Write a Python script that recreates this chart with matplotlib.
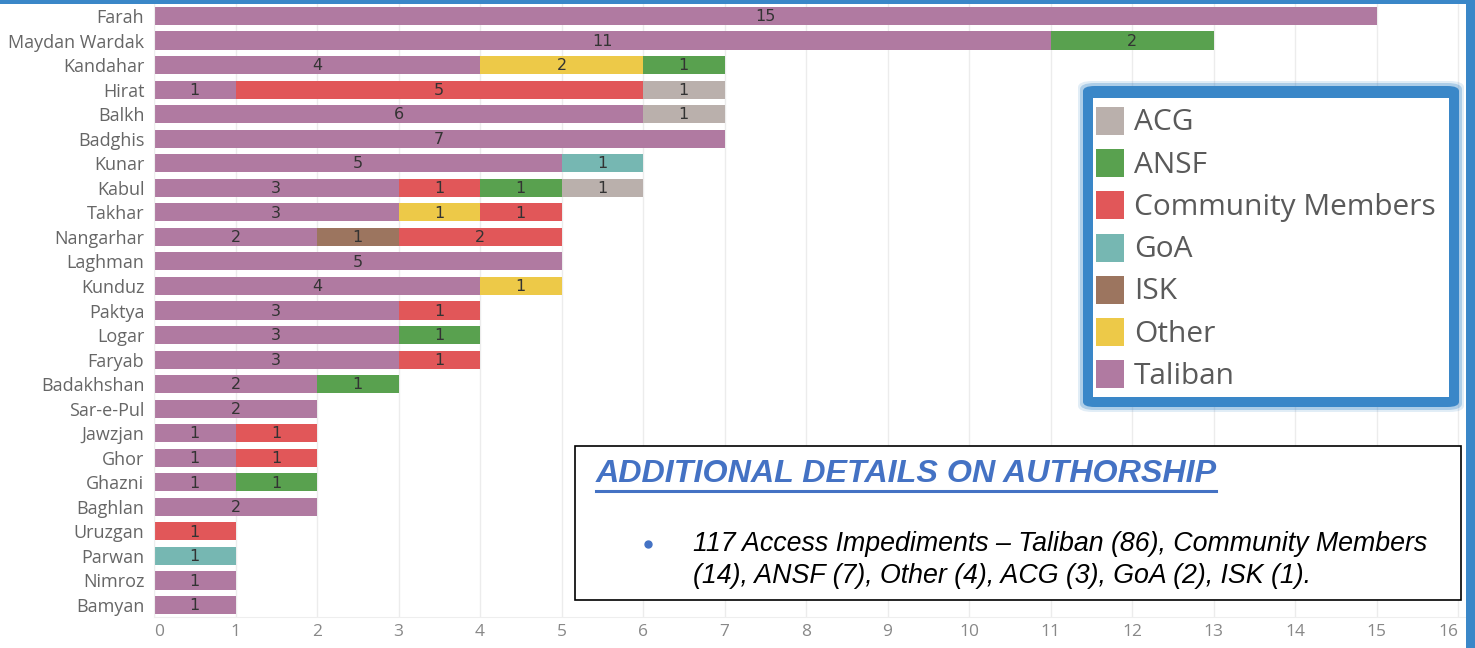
import matplotlib
matplotlib.use("Agg")
import matplotlib.pyplot as plt
from matplotlib import font_manager
from matplotlib.patches import Rectangle, FancyBboxPatch
from matplotlib.lines import Line2D
import numpy as np

provinces = ["Farah", "Maydan Wardak", "Kandahar", "Hirat", "Balkh", "Badghis",
             "Kunar", "Kabul", "Takhar", "Nangarhar", "Laghman", "Kunduz",
             "Paktya", "Logar", "Faryab", "Badakhshan", "Sar-e-Pul", "Jawzjan",
             "Ghor", "Ghazni", "Baghlan", "Uruzgan", "Parwan", "Nimroz", "Bamyan"]

# stacking order as drawn, left to right
taliban   = [15, 11, 4, 1, 6, 7, 5, 3, 3, 2, 5, 4, 3, 3, 3, 2, 2, 1, 1, 1, 2, 0, 0, 1, 1]
isk       = [0, 0, 0, 0, 0, 0, 0, 0, 0, 1, 0, 0, 0, 0, 0, 0, 0, 0, 0, 0, 0, 0, 0, 0, 0]
other     = [0, 0, 2, 0, 0, 0, 0, 0, 1, 0, 0, 1, 0, 0, 0, 0, 0, 0, 0, 0, 0, 0, 0, 0, 0]
community = [0, 0, 0, 5, 0, 0, 0, 1, 1, 2, 0, 0, 1, 0, 1, 0, 0, 1, 1, 0, 0, 1, 0, 0, 0]
ansf      = [0, 2, 1, 0, 0, 0, 0, 1, 0, 0, 0, 0, 0, 1, 0, 1, 0, 0, 0, 1, 0, 0, 0, 0, 0]
goa       = [0, 0, 0, 0, 0, 0, 1, 0, 0, 0, 0, 0, 0, 0, 0, 0, 0, 0, 0, 0, 0, 0, 1, 0, 0]
acg       = [0, 0, 0, 1, 1, 0, 0, 1, 0, 0, 0, 0, 0, 0, 0, 0, 0, 0, 0, 0, 0, 0, 0, 0, 0]

stack_names = ["Taliban", "ISK", "Other", "Community Members", "ANSF", "GoA", "ACG"]
stack_values = [taliban, isk, other, community, ansf, goa, acg]
legend_names = ["ACG", "ANSF", "Community Members", "GoA", "ISK", "Other", "Taliban"]

colors = {"Taliban": "#b07aa1", "ISK": "#9c755f", "Other": "#edc948",
          "Community Members": "#e15759", "ANSF": "#59a14f", "GoA": "#76b7b2",
          "ACG": "#bab0ac"}

box_title = "ADDITIONAL DETAILS ON AUTHORSHIP"
box_lines = ["117 Access Impediments \u2013 Taliban (86), Community Members",
             "(14), ANSF (7), Other (4), ACG (3), GoA (2), ISK (1)."]

available = {f.name for f in font_manager.fontManager.ttflist}
ui_font = "Open Sans" if "Open Sans" in available else "DejaVu Sans"
narrow = "Liberation Sans Narrow" if "Liberation Sans Narrow" in available else "Liberation Sans"

W, H = 1475, 648
fig = plt.figure(figsize=(W / 100, H / 100), dpi=100)
fig.patch.set_facecolor("white")

# axes placement in pixels
x0_px, unit_px = 154, 81.5
top_px, bot_px = 3.7, 617.3
xmax = 16.15
ax = fig.add_axes([x0_px / W, (H - bot_px) / H, xmax * unit_px / W, (bot_px - top_px) / H])

y = np.arange(len(provinces))
left = np.zeros(len(provinces))
for name, vals in zip(stack_names, stack_values):
    vals = np.array(vals, dtype=float)
    ax.barh(y, vals, left=left, height=0.74, color=colors[name], edgecolor="none", zorder=2)
    for yi, (l, v) in enumerate(zip(left, vals)):
        if v > 0:
            ax.text(l + v / 2, yi + 0.03, f"{int(v)}", ha="center", va="center",
                    fontsize=11.5, color="#333333", family="DejaVu Sans", zorder=3)
    left += vals

ax.set_ylim(len(provinces) - 0.5, -0.5)
ax.set_xlim(0, xmax)
ax.set_yticks(y)
ax.set_yticklabels(provinces, family=ui_font, fontsize=13, color="#666666")
ax.set_xticks(range(0, 17))
ax.set_xticklabels([str(i) for i in range(17)], family=ui_font, fontsize=12.5, color="#888888")
xt = ax.get_xticklabels()
xt[0].set_ha("left")
xt[-1].set_ha("right")
ax.tick_params(length=0, pad=7)
ax.tick_params(axis="x", pad=5)
ax.grid(axis="x", color="#ececec", linewidth=1, zorder=0)
ax.set_axisbelow(True)
for s in ["top", "right"]:
    ax.spines[s].set_visible(False)
ax.spines["left"].set_color("#eeeeee")
ax.spines["bottom"].set_color("#eeeeee")


def px_rect(x, y_top, w, h, **kw):
    # rectangle in figure pixels (y measured from top)
    return Rectangle((x / W, 1 - (y_top + h) / H), w / W, h / H, transform=fig.transFigure, **kw)


# outer blue frame (top and right)
fig.patches.append(px_rect(0, 0, W, 3.5, facecolor="#3a87c8", edgecolor="none", zorder=10))
fig.patches.append(px_rect(1466, 0, 9, H, facecolor="#3a87c8", edgecolor="none", zorder=10))

# legend box with blue glow
for pad, alpha in [(5, 0.15), (3, 0.3)]:
    fig.patches.append(FancyBboxPatch(((1083 - pad) / W, 1 - (407 + pad) / H),
                                      (376 + 2 * pad) / W, (321 + 2 * pad) / H,
                                      boxstyle="round,pad=0,rounding_size=0.01",
                                      transform=fig.transFigure, facecolor="#3a87c8",
                                      edgecolor="none", alpha=alpha, zorder=10))
fig.patches.append(FancyBboxPatch((1083 / W, 1 - 407 / H), 376 / W, 321 / H,
                                  boxstyle="round,pad=0,rounding_size=0.008",
                                  transform=fig.transFigure, facecolor="#3a87c8",
                                  edgecolor="none", zorder=10))
fig.patches.append(px_rect(1093, 98, 356, 299, facecolor="white", edgecolor="none", zorder=11))
for i, name in enumerate(legend_names):
    cy = 121 + i * 42.2
    fig.patches.append(px_rect(1096, cy - 14, 28, 28, facecolor=colors[name],
                               edgecolor="none", zorder=12))
    fig.text(1134 / W, 1 - (cy + 2) / H, name, ha="left", va="center", fontsize=21.5,
             color="#5a5a5a", family=ui_font, zorder=12)

# details text box
fig.patches.append(px_rect(575, 446, 886, 154, facecolor="white", edgecolor="black",
                           linewidth=1.2, zorder=10))
fig.text(596 / W, 1 - 474 / H, box_title, ha="left", va="center", fontsize=23.2,
         fontweight="bold", fontstyle="italic", color="#4472c4", family=narrow, zorder=12)
fig.lines.append(Line2D([596 / W, 1216 / W], [1 - 490.5 / H, 1 - 490.5 / H],
                        transform=fig.transFigure, color="#4472c4", linewidth=2.2, zorder=12))
fig.lines.append(Line2D([648 / W], [1 - 544 / H], transform=fig.transFigure, marker="o",
                        markersize=5, color="#4472c4", linestyle="none", zorder=12))
for i, line in enumerate(box_lines):
    fig.text(693 / W, 1 - (544 + i * 32) / H, line, ha="left", va="center", fontsize=19.3,
             fontstyle="italic", color="black", family=narrow, zorder=12)

fig.savefig("out.png", dpi=100)
